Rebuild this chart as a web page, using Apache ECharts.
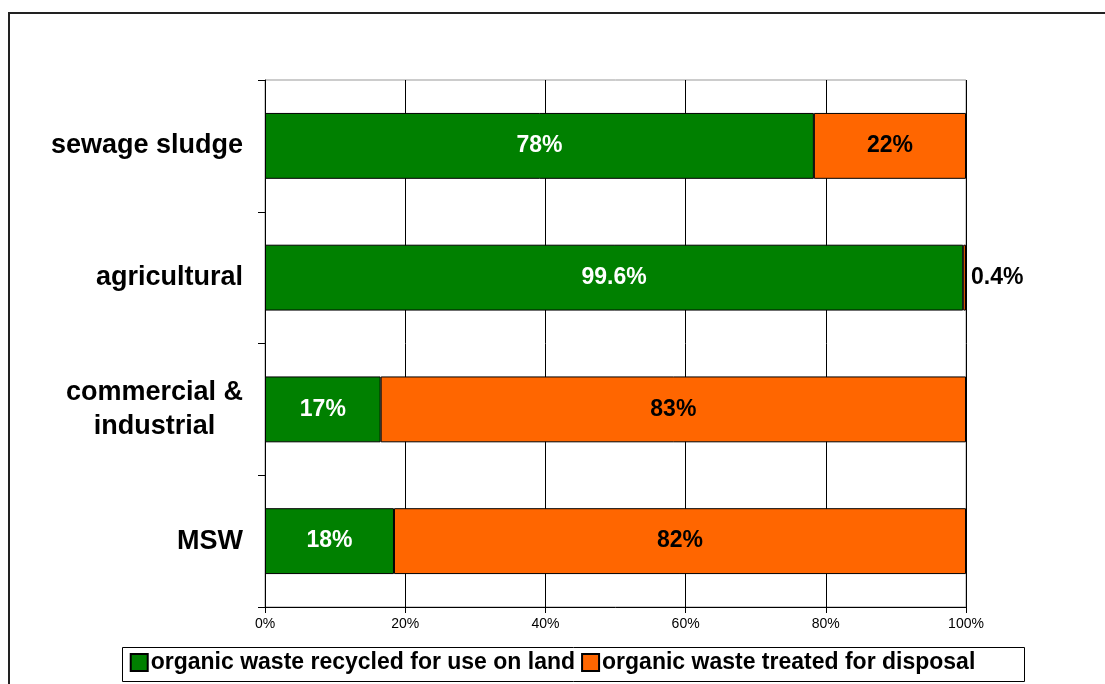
<!DOCTYPE html>
<html>
<head>
<meta charset="utf-8">
<script src="https://cdn.jsdelivr.net/npm/echarts@6/dist/echarts.min.js"></script>
<style>html,body{margin:0;padding:0;background:#fff}#c{width:1105px;height:684px}</style>
</head>
<body>
<div id="c"></div>
<script>
var categories = ['MSW', 'commercial &\nindustrial', 'agricultural', 'sewage sludge'];
var recycled = [18.4, 16.5, 99.6, 78.3];
var disposal = [81.6, 83.5, 0.4, 21.7];
var recycledLabels = ['18%', '17%', '99.6%', '78%'];
var disposalLabels = ['82%', '83%', '0.4%', '22%'];
var xTicks = [0, 20, 40, 60, 80, 100];
var seriesNames = ['organic waste recycled for use on land', 'organic waste treated for disposal'];

var FONT = '"Liberation Sans", Arial, sans-serif';
var chart = echarts.init(document.getElementById('c'));

function catLabel(v) {
  var lines = v.split('\n');
  return lines.map(function (l) { return '{c|' + l + '}'; }).join('\n');
}

var disposalData = disposal.map(function (v, i) {
  var item = { value: v };
  if (v < 3) {
    item.label = { position: 'right', distance: 5 };
  }
  return item;
});

chart.setOption({
  animation: false,
  backgroundColor: '#fff',
  graphic: [
    { type: 'rect', shape: { x: 9, y: 13, width: 1110, height: 690 }, style: { fill: 'none', stroke: '#222', lineWidth: 2 }, silent: true },
    { type: 'rect', shape: { x: 122.5, y: 647.5, width: 902, height: 34 }, style: { fill: '#fff', stroke: '#000', lineWidth: 1 }, silent: true, z: 0 }
  ],
  grid: { left: 265, right: 139, top: 80, bottom: 77, show: true, borderColor: '#999', borderWidth: 1, containLabel: false },
  legend: {
    data: seriesNames,
    bottom: 5,
    left: 'center',
    itemWidth: 17,
    itemHeight: 17,
    itemGap: 6,
    icon: 'rect',
    z: 10,
    textStyle: { fontFamily: FONT, fontWeight: 'bold', fontSize: 23, color: '#000', padding: [0, 0, 0, -2] }
  },
  xAxis: {
    type: 'value',
    min: 0,
    max: 100,
    interval: 20,
    axisLine: { show: true, lineStyle: { color: '#000', width: 1 } },
    axisTick: { show: true, length: 6, lineStyle: { color: '#000' } },
    splitLine: { show: true, lineStyle: { color: '#000', width: 1 } },
    axisLabel: {
      margin: 10,
      fontFamily: FONT, fontSize: 14, color: '#000',
      formatter: function (v) { return xTicks.indexOf(v) >= 0 ? v + '%' : ''; }
    }
  },
  yAxis: {
    type: 'category',
    data: categories,
    axisLine: { show: true, lineStyle: { color: '#000', width: 1 } },
    axisTick: { show: true, length: 7, inside: false, lineStyle: { color: '#000' } },
    axisLabel: {
      margin: 22,
      fontFamily: FONT, fontWeight: 'bold', fontSize: 27, color: '#000',
      lineHeight: 34,
      formatter: catLabel,
      rich: { c: { align: 'center', fontFamily: FONT, fontWeight: 'bold', fontSize: 27, color: '#000', lineHeight: 34 } }
    }
  },
  series: [
    {
      name: seriesNames[0],
      type: 'bar',
      stack: 'total',
      barWidth: '50%',
      data: recycled,
      itemStyle: { color: '#008000', borderColor: '#000', borderWidth: 1 },
      label: {
        show: true, position: 'inside',
        fontFamily: FONT, fontWeight: 'bold', fontSize: 23, color: '#fff',
        formatter: function (p) { return recycledLabels[p.dataIndex]; }
      }
    },
    {
      name: seriesNames[1],
      type: 'bar',
      stack: 'total',
      barWidth: '50%',
      data: disposalData,
      itemStyle: { color: '#FF6600', borderColor: '#000', borderWidth: 1 },
      label: {
        show: true, position: 'inside',
        fontFamily: FONT, fontWeight: 'bold', fontSize: 23, color: '#000',
        formatter: function (p) { return disposalLabels[p.dataIndex]; }
      }
    }
  ]
});
</script>
</body>
</html>
